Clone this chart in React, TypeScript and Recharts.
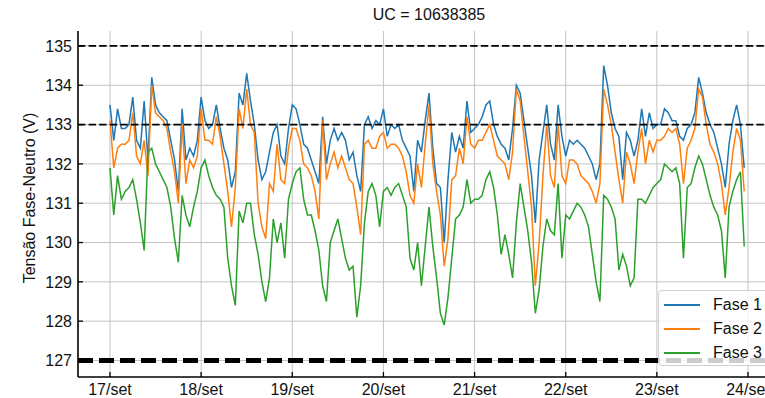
import React from "react";
import {
  LineChart,
  Line,
  XAxis,
  YAxis,
  CartesianGrid,
  ReferenceLine,
  Legend,
} from "recharts";

// Hourly phase-to-neutral voltage (V), starting 17/set 00:00
const fase1 = [
  133.5, 132.6, 133.4, 132.9, 132.9, 133.0, 133.7, 132.6, 132.4, 133.6, 132.1, 134.2, 133.5, 133.3, 133.2, 133.1, 132.6, 132.1, 131.3, 133.4, 132.1, 132.4, 132.2, 132.6,
  133.7, 133.1, 132.9, 133.0, 133.5, 132.9, 132.4, 132.1, 131.4, 131.8, 133.8, 133.5, 134.3, 133.6, 133.0, 132.1, 131.6, 131.8, 132.3, 132.8, 133.0, 132.2, 132.0, 132.9,
  133.5, 133.4, 133.0, 132.5, 132.4, 132.1, 131.8, 131.5, 133.2, 132.0, 132.6, 132.9, 132.6, 132.8, 132.6, 132.1, 132.3, 131.7, 131.3, 133.0, 133.2, 132.9, 133.1, 133.0,
  133.4, 132.7, 133.0, 132.9, 133.0, 132.6, 132.4, 132.2, 131.3, 132.6, 132.3, 133.1, 133.8, 132.4, 131.5, 131.4, 130.0, 131.6, 132.8, 132.3, 132.7, 132.4, 133.6, 132.8,
  132.9, 133.0, 133.2, 133.5, 133.6, 133.0, 132.7, 132.5, 132.4, 132.1, 132.9, 134.0, 133.8, 133.1, 132.4, 131.7, 130.5, 132.1, 132.8, 133.5, 132.5, 132.1, 133.5, 132.7,
  132.2, 132.6, 132.5, 132.6, 132.5, 132.4, 132.2, 132.0, 131.6, 132.0, 134.5, 134.0, 133.3, 132.9, 132.7, 131.6, 132.8, 132.6, 132.2, 132.6, 133.4, 132.7, 133.3, 132.9,
  133.0, 133.0, 133.4, 133.3, 133.1, 133.1, 132.7, 132.6, 132.9, 133.0, 133.3, 134.2, 133.8, 133.3, 133.0, 132.8, 132.4, 132.0, 131.4, 132.5, 133.1, 133.5, 133.0, 131.9,
];

const fase2 = [
  133.1, 131.9, 132.4, 132.5, 132.5, 132.6, 133.3, 132.2, 132.0, 132.6, 131.7, 134.0, 133.3, 133.2, 133.1, 132.9, 132.3, 131.8, 131.0, 133.0, 131.5, 132.1, 131.9, 132.2,
  133.4, 132.6, 132.6, 132.5, 133.2, 132.7, 132.0, 131.3, 130.4, 131.4, 133.4, 132.9, 133.9, 133.0, 132.8, 131.0, 130.4, 130.1, 131.5, 131.3, 132.5, 131.6, 131.5, 132.4,
  132.9, 132.9, 132.6, 132.0, 131.9, 131.7, 131.3, 130.6, 133.1, 131.6, 132.0, 132.3, 131.9, 132.2, 131.9, 131.6, 131.5, 130.9, 130.2, 132.5, 132.6, 132.4, 132.4, 132.7,
  132.8, 132.4, 132.5, 132.5, 132.4, 132.2, 131.8, 131.2, 131.0, 132.0, 131.4, 132.5, 133.5, 132.0, 131.3, 130.7, 129.4, 130.1, 131.6, 131.7, 132.4, 132.0, 133.2, 132.5,
  132.4, 132.6, 132.6, 132.8, 133.0, 132.6, 132.2, 132.1, 132.0, 131.6, 132.3, 133.9, 133.6, 132.7, 131.8, 130.9, 128.9, 130.0, 131.7, 133.0, 131.7, 131.4, 133.0, 131.7,
  131.5, 132.1, 132.1, 132.0, 131.7, 131.6, 131.5, 131.3, 131.0, 131.5, 133.9, 133.5, 133.0, 132.3, 131.6, 131.0, 132.3, 132.0, 131.5, 132.3, 132.9, 132.0, 132.6, 132.3,
  132.6, 132.6, 132.7, 132.9, 132.8, 132.9, 132.5, 131.5, 132.4, 132.6, 132.9, 133.9, 133.7, 133.0, 132.5, 132.3, 132.0, 131.5, 130.7, 131.4, 132.3, 132.9, 132.6, 131.3,
];

const fase3 = [
  131.9, 130.7, 131.7, 131.1, 131.3, 131.4, 131.6, 131.1, 130.5, 129.8, 132.3, 132.4, 132.0, 131.8, 131.6, 131.4, 130.9, 130.1, 129.5, 131.2, 130.7, 130.4, 130.9, 131.3,
  131.9, 132.1, 131.7, 131.4, 131.2, 131.1, 130.9, 129.6, 128.9, 128.4, 130.8, 130.5, 131.0, 131.0, 130.2, 129.7, 129.0, 128.5, 129.1, 130.6, 130.0, 130.5, 129.6, 131.1,
  131.5, 131.8, 131.9, 131.1, 130.7, 130.7, 130.3, 129.8, 128.9, 128.5, 130.0, 130.3, 130.6, 130.1, 129.6, 129.3, 129.4, 128.1, 128.9, 130.5, 131.3, 131.5, 131.2, 130.4,
  131.3, 131.4, 131.2, 131.4, 131.5, 131.2, 130.9, 129.6, 129.3, 130.0, 128.9, 129.9, 130.9, 129.9, 129.1, 128.2, 127.9, 128.6, 129.6, 130.6, 130.7, 130.9, 131.6, 131.0,
  131.1, 131.1, 131.2, 131.6, 131.8, 131.4, 130.7, 129.7, 130.2, 129.7, 129.1, 130.5, 131.5, 130.9, 130.3, 129.5, 128.2, 128.8, 129.9, 130.6, 130.3, 130.2, 131.5, 129.6,
  130.7, 130.6, 130.8, 131.0, 130.9, 130.7, 130.4, 129.7, 129.0, 128.5, 131.2, 131.1, 130.9, 130.6, 129.3, 129.7, 129.4, 128.9, 129.1, 131.1, 131.1, 131.0, 131.2, 131.4,
  131.5, 131.6, 132.0, 131.9, 131.8, 131.9, 131.5, 129.6, 131.4, 131.5, 131.9, 132.2, 132.0, 131.6, 131.2, 130.9, 130.7, 130.3, 129.1, 130.9, 131.3, 131.6, 131.8, 129.9,
];

// Day ticks (hours since 17/set 00:00) and their labels
const xTicks = [0, 24, 48, 72, 96, 120, 144, 168];
const xLabels = ["17/set", "18/set", "19/set", "20/set", "21/set", "22/set", "23/set", "24/set"];
const yTicks = [127, 128, 129, 130, 131, 132, 133, 134, 135];

// Limit lines (V)
const upperLimit = 135;
const warnLimit = 133;
const lowerLimit = 127;

const seriesNames = ["Fase 1", "Fase 2", "Fase 3"];
const seriesColors = ["#1f77b4", "#ff7f0e", "#2ca02c"];

const rows = fase1.map((v, i) => ({ t: i, f1: v, f2: fase2[i], f3: fase3[i] }));

const FONT = '"Liberation Sans", Arial, Helvetica, sans-serif';
const TEXT = "#111";
const GRID = "#c4c4c4";

const XTick = (props: any) => {
  const { x, y, payload } = props;
  const idx = xTicks.indexOf(payload.value);
  return (
    <g>
      <line x1={x} x2={x} y1={y - 7} y2={y - 12} stroke="#000" strokeWidth={1.3} />
      <text x={x} y={y} dy="0.71em" textAnchor="middle" fontFamily={FONT} fontSize={16} fill={TEXT}>
        {idx >= 0 ? xLabels[idx] : ""}
      </text>
    </g>
  );
};

const YTick = (props: any) => {
  const { x, y, payload } = props;
  return (
    <g>
      <line x1={x + 6} x2={x + 11} y1={y} y2={y} stroke="#000" strokeWidth={1.3} />
      <text x={x} y={y} dy="0.36em" textAnchor="end" fontFamily={FONT} fontSize={16} fill={TEXT}>
        {payload.value}
      </text>
    </g>
  );
};

const LegendBox = (props: any) => {
  const items = (props.payload || []) as any[];
  return (
    <div
      style={{
        position: "relative",
        width: 120,
        height: 76,
        boxSizing: "border-box",
        background: "rgba(255,255,255,0.8)",
        border: "1px solid #d0d0d0",
        borderRadius: 4,
        fontFamily: FONT,
        fontSize: 16,
        color: TEXT,
      }}
    >
      {items.map((it, i) => (
        <div
          key={it.value}
          style={{ position: "absolute", left: 0, top: 2 + i * 24, height: 24, display: "flex", alignItems: "center" }}
        >
          <span style={{ display: "inline-block", marginLeft: 5, width: 36, height: 2, background: it.color }} />
          <span style={{ marginLeft: 13, lineHeight: "24px", whiteSpace: "nowrap" }}>{it.value}</span>
        </div>
      ))}
    </div>
  );
};

export default function App() {
  return (
    <div
      style={{
        position: "absolute",
        left: 0,
        top: 0,
        width: 765,
        height: 398,
        overflow: "hidden",
        background: "#fff",
      }}
    >
      <LineChart width={800} height={398} data={rows} margin={{ top: 31, right: 20, bottom: 0, left: 0 }}>
        <CartesianGrid
          stroke={GRID}
          strokeOpacity={1}
          strokeWidth={1}
          fill="none"
          horizontalValues={yTicks}
          verticalValues={xTicks}
        />
        <XAxis
          dataKey="t"
          type="number"
          domain={[-8.42, 176.42]}
          ticks={xTicks}
          interval={0}
          allowDataOverflow
          height={21}
          tickSize={0}
          tickMargin={7}
          tickLine={false}
          tick={<XTick />}
          axisLine={{ stroke: "#000", strokeWidth: 1.6 }}
        />
        <XAxis
          xAxisId="top"
          orientation="top"
          dataKey="t"
          type="number"
          domain={[-8.42, 176.42]}
          allowDataOverflow
          height={0}
          tick={false}
          tickLine={false}
          axisLine={{ stroke: "#000", strokeWidth: 1.6 }}
        />
        <YAxis
          type="number"
          domain={[126.58, 135.38]}
          ticks={yTicks}
          interval={0}
          allowDataOverflow
          width={78}
          tickSize={0}
          tickMargin={6}
          tickLine={false}
          tick={<YTick />}
          axisLine={{ stroke: "#000", strokeWidth: 1.6 }}
        />
        <Line type="linear" dataKey="f1" name={seriesNames[0]} stroke={seriesColors[0]} strokeWidth={1.5} dot={false} activeDot={false} isAnimationActive={false} />
        <Line type="linear" dataKey="f2" name={seriesNames[1]} stroke={seriesColors[1]} strokeWidth={1.5} dot={false} activeDot={false} isAnimationActive={false} />
        <Line type="linear" dataKey="f3" name={seriesNames[2]} stroke={seriesColors[2]} strokeWidth={1.5} dot={false} activeDot={false} isAnimationActive={false} />
        <ReferenceLine y={upperLimit} stroke="#000" strokeWidth={1.8} strokeDasharray="7.4 3.2" />
        <ReferenceLine y={warnLimit} stroke="#000" strokeWidth={1.8} strokeDasharray="7.4 3.2" />
        <ReferenceLine y={lowerLimit} stroke="#000" strokeWidth={5} strokeDasharray="15 6" />
        <Legend
          layout="vertical"
          align="center"
          verticalAlign="middle"
          wrapperStyle={{ left: 658, top: 290, width: 120, height: 76 }}
          content={<LegendBox />}
        />
      </LineChart>
      <svg
        width={765}
        height={398}
        style={{ position: "absolute", left: 0, top: 0, pointerEvents: "none" }}
      >
        <text x={429} y={20} textAnchor="middle" fontFamily={FONT} fontSize={16} fill={TEXT}>
          UC = 10638385
        </text>
        <text
          transform="translate(34.5,198) rotate(-90)"
          textAnchor="middle"
          fontFamily={FONT}
          fontSize={16}
          fill={TEXT}
        >
          Tensão Fase-Neutro (V)
        </text>
      </svg>
    </div>
  );
}
